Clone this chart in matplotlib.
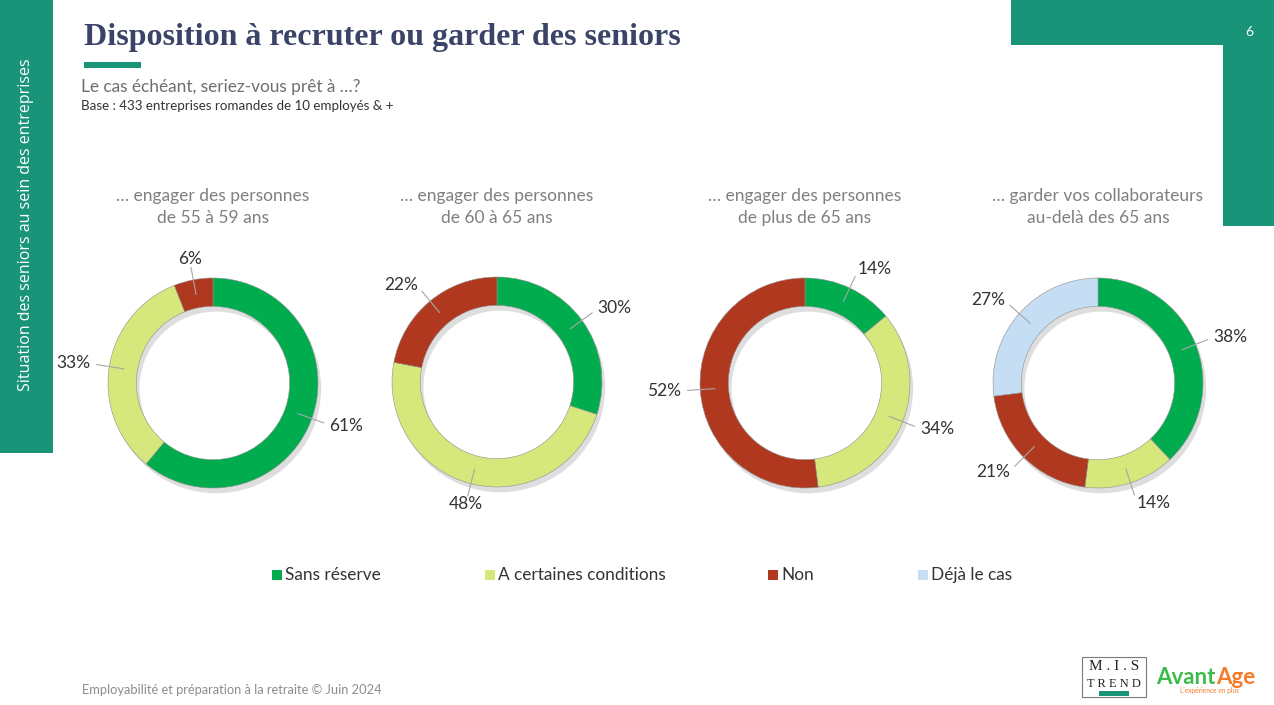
import numpy as np
import matplotlib.pyplot as plt
from matplotlib.patches import Rectangle

# -------------------------
# Data
# -------------------------
CATEGORIES = ["Sans réserve", "A certaines conditions", "Non", "Déjà le cas"]
COLORS = ["#00AC4E", "#D6E87C", "#B0381F", "#C6DEF3"]

CHART_TITLES = [
    "… engager des personnes\nde 55 à 59 ans",
    "… engager des personnes\nde 60 à 65 ans",
    "… engager des personnes\nde plus de 65 ans",
    "… garder vos collaborateurs\nau-delà des 65 ans",
]
sans_reserve = [61, 30, 14, 38]
certaines_conditions = [33, 48, 34, 14]
non = [6, 22, 52, 21]
deja_le_cas = [0, 0, 0, 27]

TITLE = "Disposition à recruter ou garder des seniors"
SUBTITLE = "Le cas échéant, seriez-vous prêt à …?"
BASE = "Base : 433 entreprises romandes de 10 employés & +"
SIDE = "Situation des seniors au sein des entreprises"
FOOTER = "Employabilité et préparation à la retraite © Juin 2024"

# -------------------------
# Layout
# -------------------------
W, H = 1274, 705
TEAL = "#1A9478"
CENTERS = [(213, 383), (497, 382), (805, 383), (1098, 383)]
R_PX = 105
LEGEND_X = [272, 485, 768, 918]
SANS = "Lato"

fig = plt.figure(figsize=(W / 100, H / 100), dpi=100)
bg = fig.add_axes([0, 0, 1, 1])
bg.set_xlim(0, W)
bg.set_ylim(H, 0)
bg.axis("off")

# side / corner bands
bg.add_patch(Rectangle((0, 0), 53, 453, color=TEAL, lw=0))
bg.add_patch(Rectangle((1011, 0), W - 1011, 45, color=TEAL, lw=0))
bg.add_patch(Rectangle((1223, 0), W - 1223, 226, color=TEAL, lw=0))
bg.text(26, 225, SIDE, rotation=90, ha="center", va="center", color="white",
        fontsize=11.5, family="Open Sans")
bg.text(1249, 32, "6", ha="center", va="center", color="white", fontsize=10, family=SANS)

# title block
bg.text(84, 38, TITLE, ha="left", va="center", color="#3B4468", fontsize=23,
        family="Liberation Serif", fontweight="bold")
bg.add_patch(Rectangle((84, 62), 57, 6, color=TEAL, lw=0))
bg.text(81, 87, SUBTITLE, ha="left", va="center", color="#6E6E6E", fontsize=12.4, family=SANS)
bg.text(81, 106, BASE, ha="left", va="center", color="#333333", fontsize=9.6, family=SANS)

# footer
bg.text(82, 690, FOOTER, ha="left", va="center", color="#8C8C8C", fontsize=9.3, family=SANS)

# logos
bg.add_patch(Rectangle((1082, 657), 64, 40, fill=False, ec="#7A7A7A", lw=0.8))
bg.text(1114, 667, "M . I . S", ha="center", va="center", fontsize=11,
        family="Liberation Serif", color="#222222")
bg.text(1114, 684, "T R E N D", ha="center", va="center", fontsize=9,
        family="Liberation Serif", color="#222222")
bg.add_patch(Rectangle((1099, 691), 30, 5, color=TEAL, lw=0))
avant = bg.text(1156, 677, "Avant", ha="left", va="center", fontsize=16, fontweight="bold",
                family=SANS, color="#3DBB4A")
fig.canvas.draw()
ext = avant.get_window_extent()
bg.text(ext.x1 + 1, 677, "Age", ha="left", va="center", fontsize=16, fontweight="bold",
        family=SANS, color="#F47B29")
bg.text(1209, 691, "L'expérience en plus", ha="center", va="center", fontsize=4.8,
        family=SANS, color="#F47B29")

# legend
for x, cat, col in zip(LEGEND_X, CATEGORIES, COLORS):
    bg.add_patch(Rectangle((x, 570), 10, 10, color=col, lw=0))
    bg.text(x + 13, 575, cat, ha="left", va="center", fontsize=12.4, family=SANS, color="#333333")

# -------------------------
# Donuts
# -------------------------
values = np.array([sans_reserve, certaines_conditions, non, deja_le_cas]).T
half = 1.6
for i, ((cx, cy), vals, title) in enumerate(zip(CENTERS, values, CHART_TITLES)):
    size = 2 * half * R_PX
    ax = fig.add_axes([(cx - size / 2) / W, (H - cy - size / 2) / H, size / W, size / H])

    keep = vals > 0
    v = vals[keep]
    cols = [c for c, k in zip(COLORS, keep) if k]

    # soft drop shadow
    ax.pie([1], radius=1.0, center=(0.03, -0.05), colors=["#C8C8C8"],
           wedgeprops=dict(width=0.27, lw=0, alpha=0.6), frame=True)
    ax.pie(v, radius=1.0, colors=cols, startangle=90, counterclock=False,
           wedgeprops=dict(width=0.27, edgecolor="#8F8F8F", linewidth=0.4), frame=True)
    ax.set_xlim(-half, half)
    ax.set_ylim(-half, half)
    ax.set_aspect("equal")
    ax.axis("off")

    # labels with leader lines
    cum = np.cumsum(v) - v / 2
    for val, c in zip(v, cum):
        ang = np.deg2rad(90 - c / v.sum() * 360)
        dx, dy = np.cos(ang), np.sin(ang)
        ax.plot([0.86 * dx, 1.12 * dx], [0.86 * dy, 1.12 * dy], color="#A6A6A6", lw=0.8)
        ha = "center" if abs(dx) < 0.3 else ("left" if dx > 0 else "right")
        ax.text(1.18 * dx, 1.2 * dy, f"{val}%", ha=ha, va="center", fontsize=12.5,
                family=SANS, color="#333333")

    bg.text(cx, 207, title, ha="center", va="center", fontsize=12.5, family=SANS,
            color="#7F7F7F", linespacing=1.4)

fig.savefig("out.png", dpi=100)
